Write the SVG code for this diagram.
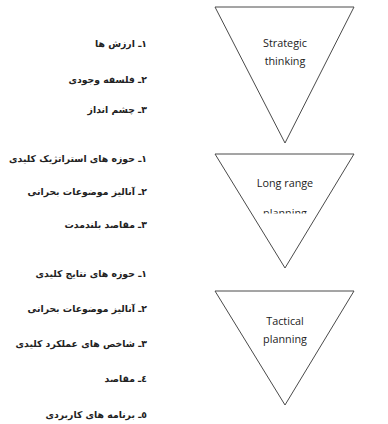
<svg xmlns="http://www.w3.org/2000/svg" width="388" height="424" viewBox="0 0 388 424">
<defs>
<style>
.tri{fill:#fff;stroke:#4a4a4a;stroke-width:1}
.en{font-family:"Open Sans","Liberation Sans",sans-serif;font-size:10.8px;fill:#222;text-anchor:middle}
.fa{font-family:"DejaVu Sans",sans-serif;font-size:9.3px;font-weight:bold;fill:#222;direction:rtl;text-anchor:start}
</style>
<clipPath id="clipLR"><rect x="215" y="150" width="140" height="63.5"/></clipPath>
</defs>
<rect width="388" height="424" fill="#fff"/>
<g id="connectors"></g>
<g id="strategic-thinking">
<polygon class="tri" points="215,7 354,7 285,143"/>
<text class="en" x="285" y="47">Strategic</text>
<text class="en" x="285" y="65">thinking</text>
</g>
<g id="long-range-planning">
<polygon class="tri" points="215,154 354,154 285,268"/>
<text class="en" x="285" y="187">Long range</text>
<text class="en" x="285" y="217" clip-path="url(#clipLR)">planning</text>
</g>
<g id="tactical-planning">
<polygon class="tri" points="215,291 354,291 285,405"/>
<text class="en" x="285" y="325">Tactical</text>
<text class="en" x="285" y="343">planning</text>
</g>
<g id="list-strategic">
<text class="fa" x="147" y="47">۱ـ ارزش ها</text>
<text class="fa" x="147" y="83">۲ـ فلسفه وجودی</text>
<text class="fa" x="147" y="113">۳ـ چشم انداز</text>
</g>
<g id="list-long-range">
<text class="fa" x="147" y="162">۱ـ حوزه های استراتژیک کلیدی</text>
<text class="fa" x="147" y="195">۲ـ آنالیز موضوعات بحرانی</text>
<text class="fa" x="147" y="228">۳ـ مقاصد بلندمدت</text>
</g>
<g id="list-tactical">
<text class="fa" x="147" y="277">۱ـ حوزه های نتایج کلیدی</text>
<text class="fa" x="147" y="312">۲ـ آنالیز موضوعات بحرانی</text>
<text class="fa" x="147" y="347">۳ـ شاخص های عملکرد کلیدی</text>
<text class="fa" x="147" y="382">٤ـ مقاصد</text>
<text class="fa" x="147" y="418">٥ـ برنامه های کاربردی</text>
</g>
</svg>
